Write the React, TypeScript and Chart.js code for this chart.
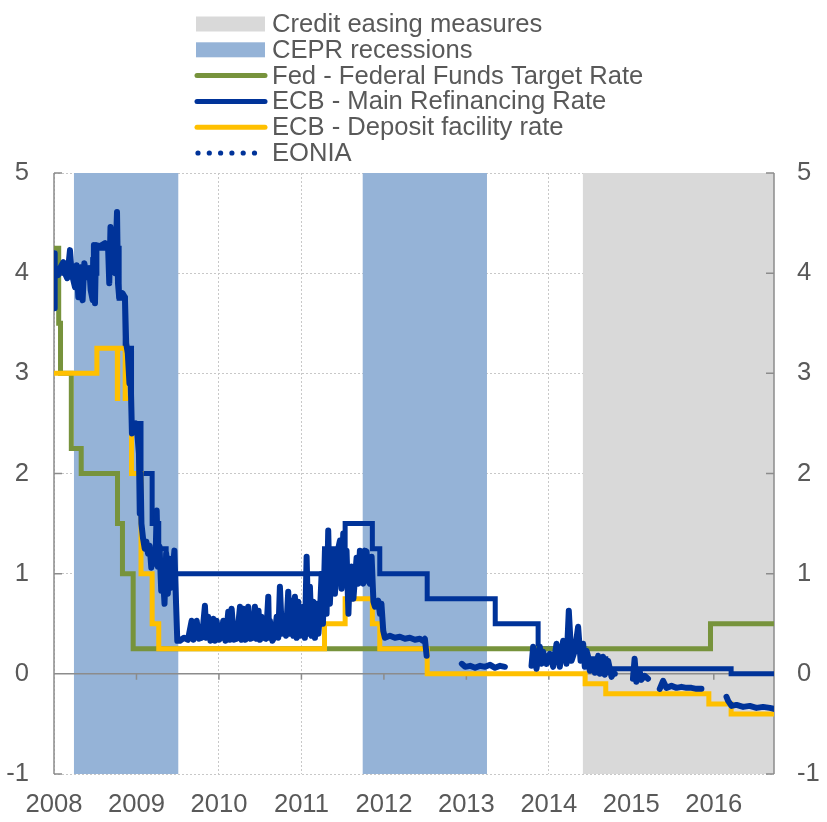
import React, { useEffect, useRef } from 'react';
import { Chart, registerables } from 'chart.js';

Chart.register(...registerables);

// ---------- data ----------
const xTickYears = [2008, 2009, 2010, 2011, 2012, 2013, 2014, 2015, 2016];
const yTickValues = [-1, 0, 1, 2, 3, 4, 5];
const xMin = 2008.0;
const xMax = 2016.73;

const legendLabels = [
  'Credit easing measures',
  'CEPR recessions',
  'Fed - Federal Funds Target Rate',
  'ECB - Main Refinancing Rate',
  'ECB - Deposit facility rate',
  'EONIA',
];

const easingStarts = [2014.41];
const easingEnds = [2016.73];
const recessionStarts = [2008.24, 2011.74];
const recessionEnds = [2009.51, 2013.25];

const fedYears = [2008.0, 2008.057, 2008.079, 2008.21, 2008.33, 2008.77, 2008.83, 2008.96, 2015.96, 2016.73];
const fedRates = [4.25, 3.5, 3.0, 2.25, 2.0, 1.5, 1.0, 0.25, 0.5, 0.5];

const mroYears = [2008.0, 2008.52, 2008.79, 2008.863, 2008.94, 2009.055, 2009.19, 2009.27, 2009.36, 2011.28, 2011.53, 2011.86, 2011.95, 2012.525, 2013.35, 2013.87, 2014.44, 2014.69, 2016.21, 2016.73];
const mroRates = [4.0, 4.25, 3.75, 3.25, 2.5, 2.0, 1.5, 1.25, 1.0, 1.25, 1.5, 1.25, 1.0, 0.75, 0.5, 0.25, 0.15, 0.05, 0.0, 0.0];

const depositYears = [2008.0, 2008.52, 2008.768, 2008.772, 2008.863, 2008.94, 2009.055, 2009.19, 2009.27, 2011.28, 2011.53, 2011.86, 2011.95, 2012.525, 2014.44, 2014.69, 2015.94, 2016.21, 2016.73];
const depositRates = [3.0, 3.25, 2.75, 3.25, 2.75, 2.0, 1.0, 0.5, 0.25, 0.5, 0.75, 0.5, 0.25, 0.0, -0.1, -0.2, -0.3, -0.4, -0.4];

const eoniaYears = [
  2008.000, 2008.004, 2008.012, 2008.024, 2008.050, 2008.073, 2008.113, 2008.133, 2008.160, 2008.194,
  2008.214, 2008.255, 2008.275, 2008.295, 2008.323, 2008.347, 2008.368, 2008.396, 2008.428, 2008.445,
  2008.469, 2008.475, 2008.484, 2008.497, 2008.510, 2008.560, 2008.620, 2008.655, 2008.670, 2008.685,
  2008.700, 2008.715, 2008.740, 2008.764, 2008.776, 2008.790, 2008.830, 2008.860, 2008.875, 2008.895,
  2008.915, 2008.925, 2008.945, 2008.975, 2008.994, 2009.010, 2009.030, 2009.040, 2009.050, 2009.060,
  2009.080, 2009.100, 2009.120, 2009.140, 2009.160, 2009.180, 2009.200, 2009.230, 2009.245, 2009.260,
  2009.280, 2009.300, 2009.320, 2009.340, 2009.360, 2009.380, 2009.400, 2009.420, 2009.460, 2009.480,
  2009.495, 2009.527, 2009.576, 2009.624, 2009.669, 2009.691, 2009.730, 2009.758, 2009.794, 2009.830,
  2009.848, 2009.870, 2009.897, 2009.931, 2009.952, 2009.972, 2010.000, 2010.024, 2010.052, 2010.079,
  2010.113, 2010.133, 2010.154, 2010.182, 2010.218, 2010.255, 2010.275, 2010.295, 2010.321, 2010.355,
  2010.382, 2010.412, 2010.436, 2010.457, 2010.480, 2010.497, 2010.517, 2010.545, 2010.570, 2010.598,
  2010.608, 2010.618, 2010.648, 2010.673, 2010.700, 2010.719, 2010.739, 2010.764, 2010.788, 2010.812,
  2010.840, 2010.861, 2010.881, 2010.903, 2010.921, 2010.942, 2010.961, 2010.985, 2011.022, 2011.042,
  2011.063, 2011.085, 2011.103, 2011.124, 2011.143, 2011.164, 2011.184, 2011.206, 2011.224, 2011.245,
  2011.261, 2011.285, 2011.305, 2011.325, 2011.345, 2011.366, 2011.385, 2011.406, 2011.446, 2011.467,
  2011.487, 2011.507, 2011.527, 2011.547, 2011.570, 2011.588, 2011.608, 2011.630, 2011.669, 2011.689,
  2011.709, 2011.730, 2011.749, 2011.770, 2011.790, 2011.810, 2011.830, 2011.851, 2011.873, 2011.891,
  2011.931, 2011.952, 2011.970, 2011.992, 2012.012, 2012.073, 2012.133, 2012.194, 2012.255, 2012.315,
  2012.376, 2012.436, 2012.473, 2012.497, 2012.518, 2012.700,
  2012.945, 2012.985, 2013.045, 2013.106, 2013.167, 2013.227, 2013.288, 2013.348, 2013.409, 2013.467, 2013.600,
  2013.790, 2013.810, 2013.850, 2013.891, 2013.911, 2013.931, 2013.972, 2014.012, 2014.052, 2014.093,
  2014.133, 2014.173, 2014.214, 2014.242, 2014.275, 2014.315, 2014.355, 2014.385, 2014.416, 2014.436,
  2014.457, 2014.477, 2014.497, 2014.537, 2014.558, 2014.598, 2014.618, 2014.658, 2014.679, 2014.719,
  2014.760, 2014.780, 2014.800, 2014.900,
  2015.020, 2015.040, 2015.061, 2015.101, 2015.121, 2015.162, 2015.202, 2015.250,
  2015.345, 2015.385, 2015.426, 2015.487, 2015.548, 2015.608, 2015.669, 2015.729, 2015.790, 2015.850, 2016.000,
  2016.154, 2016.174, 2016.215, 2016.275, 2016.356, 2016.436, 2016.517, 2016.598, 2016.679, 2016.730,
];
const eoniaValues = [
  3.65, 4.20, 4.00, 4.02, 3.98, 4.05, 4.11, 4.00, 3.95, 4.23,
  4.00, 3.86, 4.08, 3.76, 4.06, 3.73, 4.10, 3.96, 4.05, 3.83,
  3.73, 4.15, 4.28, 3.70, 4.28, 4.27, 4.30, 4.28, 3.90, 4.46,
  4.15, 4.35, 4.00, 4.61, 3.90, 3.76, 3.80, 3.76, 3.30, 3.20,
  2.90, 3.10, 2.40, 2.45, 2.50, 2.40, 2.20, 1.60, 2.00, 1.50,
  1.35, 1.25, 1.32, 1.20, 1.28, 1.06, 1.15, 1.10, 1.63, 1.07,
  1.27, 0.83, 1.00, 0.70, 1.20, 0.80, 1.15, 0.86, 1.23, 0.70,
  0.33, 0.33, 0.36, 0.34, 0.53, 0.34, 0.53, 0.35, 0.36, 0.68,
  0.36, 0.57, 0.33, 0.55, 0.33, 0.53, 0.34, 0.36, 0.53, 0.33,
  0.62, 0.34, 0.65, 0.34, 0.35, 0.67, 0.34, 0.65, 0.34, 0.67,
  0.35, 0.36, 0.67, 0.35, 0.63, 0.34, 0.57, 0.36, 0.35, 0.77,
  0.36, 0.53, 0.33, 0.37, 0.57, 0.36, 0.87, 0.40, 0.45, 0.38,
  0.82, 0.40, 0.73, 0.38, 0.77, 0.36, 0.72, 0.38, 0.67, 0.36,
  1.17, 0.40, 0.87, 0.38, 0.72, 0.36, 0.70, 0.40, 0.60, 1.00,
  0.50, 1.23, 0.60, 1.43, 0.70, 1.10, 1.21, 0.80, 1.25, 1.33,
  0.85, 1.40, 0.90, 1.23, 0.60, 1.05, 1.07, 0.75, 1.16, 0.90,
  1.23, 0.93, 0.90, 1.23, 1.22, 0.93, 0.90, 1.17, 0.72, 0.67,
  0.73, 0.60, 0.70, 0.43, 0.36, 0.38, 0.36, 0.37, 0.35, 0.36,
  0.34, 0.35, 0.33, 0.35, 0.18, null,
  0.10, 0.07, 0.08, 0.06, 0.08, 0.07, 0.09, 0.06, 0.08, 0.07, null,
  0.08, 0.27, 0.05, 0.27, 0.10, 0.22, 0.10, 0.20, 0.07, 0.30,
  0.07, 0.33, 0.10, 0.63, 0.13, 0.23, 0.47, 0.13, 0.30, 0.07,
  0.23, 0.17, 0.03, 0.13, 0.01, 0.18, 0.00, 0.17, -0.01, 0.13,
  -0.03, 0.00, 0.00, null,
  -0.05, 0.15, -0.08, 0.03, -0.06, -0.02, -0.05, null,
  -0.15, -0.07, -0.14, -0.12, -0.14, -0.13, -0.14, -0.14, -0.15, -0.15, null,
  -0.23, -0.27, -0.32, -0.31, -0.33, -0.32, -0.34, -0.33, -0.34, -0.35,
];

// ---------- styles ----------
const FONT = '"Liberation Sans", Arial, sans-serif';
const FONT_SIZE = 25.6;
const TEXT_COLOR = '#595959';
const GRID_COLOR = '#C8C8C8';
const AXIS_COLOR = '#8C8C8C';
const GREY_BAND = '#D9D9D9';
const BLUE_BAND = '#95B3D7';
const FED_GREEN = '#77933C';
const ECB_BLUE = '#003399';
const DEP_YELLOW = '#FFC000';

const toPoints = (xs: number[], ys: (number | null)[]) => xs.map((x, i) => ({ x, y: ys[i] }));

const bandDataset = (a: number, b: number, color: string, order: number) => ({
  label: 'band',
  data: [{ x: a, y: 5 }, { x: b, y: 5 }],
  backgroundColor: color,
  borderColor: 'rgba(0,0,0,0)',
  borderWidth: 0,
  pointRadius: 0,
  fill: 'start',
  order,
});

const legendPlugin = {
  id: 'customLegend',
  afterDraw(chart: any) {
    const ctx = chart.ctx;
    ctx.save();
    const x0 = 196;
    const x1 = 265;
    const textX = 272;
    const top = 24;
    const step = 25.8;
    const kinds = ['rect', 'rect', 'line', 'line', 'line', 'dots'];
    const colors = [GREY_BAND, BLUE_BAND, FED_GREEN, ECB_BLUE, DEP_YELLOW, ECB_BLUE];
    ctx.font = `${FONT_SIZE}px ${FONT}`;
    ctx.textBaseline = 'middle';
    ctx.textAlign = 'left';
    legendLabels.forEach((label, i) => {
      const cy = top + i * step;
      const kind = kinds[i];
      if (kind === 'rect') {
        ctx.fillStyle = colors[i];
        ctx.fillRect(x0, cy - 7.5, x1 - x0, 15);
      } else if (kind === 'line') {
        ctx.strokeStyle = colors[i];
        ctx.lineWidth = 5;
        ctx.lineCap = 'round';
        ctx.beginPath();
        ctx.moveTo(x0 + 1, cy);
        ctx.lineTo(x1, cy);
        ctx.stroke();
      } else {
        ctx.fillStyle = colors[i];
        for (let k = 0; k < 6; k++) {
          ctx.beginPath();
          ctx.arc(x0 + 2 + k * 11.3, cy, 2.6, 0, Math.PI * 2);
          ctx.fill();
        }
      }
      ctx.fillStyle = TEXT_COLOR;
      ctx.fillText(label, textX, cy + 1);
    });
    ctx.restore();
  },
};

const axisPlugin = {
  id: 'axisLines',
  beforeDatasetDraw(chart: any, args: any) {
    if (args.index !== 3) return;
    const { ctx, chartArea: a, scales } = chart;
    const xs = scales.x;
    const ys = scales.y;
    ctx.save();
    ctx.strokeStyle = AXIS_COLOR;
    ctx.lineWidth = 1.5;
    ctx.lineCap = 'butt';
    ctx.beginPath();
    ctx.moveTo(a.left, a.top);
    ctx.lineTo(a.left, a.bottom);
    ctx.moveTo(a.right, a.top);
    ctx.lineTo(a.right, a.bottom);
    yTickValues.forEach((v) => {
      const py = ys.getPixelForValue(v);
      ctx.moveTo(a.left, py);
      ctx.lineTo(a.left + 8, py);
      ctx.moveTo(a.right - 8, py);
      ctx.lineTo(a.right, py);
    });
    const y0 = ys.getPixelForValue(0);
    ctx.moveTo(a.left, y0);
    ctx.lineTo(a.right, y0);
    xTickYears.forEach((yr) => {
      const px = xs.getPixelForValue(yr);
      ctx.moveTo(px, y0);
      ctx.lineTo(px, y0 + 6);
    });
    ctx.stroke();
    ctx.restore();
  },
};

export default function App() {
  const canvasRef = useRef<HTMLCanvasElement | null>(null);

  useEffect(() => {
    if (!canvasRef.current) return;
    const datasets: any[] = [
      {
        label: legendLabels[5],
        data: toPoints(eoniaYears, eoniaValues),
        borderColor: ECB_BLUE,
        borderWidth: 6,
        pointRadius: 0,
        borderJoinStyle: 'round',
        borderCapStyle: 'round',
        spanGaps: false,
        fill: false,
        order: 0,
      },
      {
        label: legendLabels[4],
        data: toPoints(depositYears, depositRates),
        borderColor: DEP_YELLOW,
        borderWidth: 5,
        pointRadius: 0,
        stepped: 'before',
        fill: false,
        order: 1,
      },
      {
        label: legendLabels[2],
        data: toPoints(fedYears, fedRates),
        borderColor: FED_GREEN,
        borderWidth: 5,
        pointRadius: 0,
        stepped: 'before',
        fill: false,
        order: 2,
      },
      {
        label: legendLabels[3],
        data: toPoints(mroYears, mroRates),
        borderColor: ECB_BLUE,
        borderWidth: 5,
        pointRadius: 0,
        stepped: 'before',
        fill: false,
        order: 3,
      },
    ];
    easingStarts.forEach((s, i) => datasets.push(bandDataset(s, easingEnds[i], GREY_BAND, 10)));
    recessionStarts.forEach((s, i) => datasets.push(bandDataset(s, recessionEnds[i], BLUE_BAND, 9)));

    const tickFont = { family: FONT, size: FONT_SIZE };

    const chart = new Chart(canvasRef.current, {
      type: 'line',
      data: { datasets },
      options: {
        responsive: false,
        animation: false,
        devicePixelRatio: 1,
        layout: { padding: { top: 173, left: 0, right: 0, bottom: 0 } },
        plugins: {
          legend: { display: false },
          tooltip: { enabled: false },
        },
        scales: {
          x: {
            type: 'linear',
            position: 'bottom',
            min: xMin,
            max: xMax,
            afterBuildTicks: (scale: any) => {
              scale.ticks = xTickYears.map((v) => ({ value: v }));
            },
            afterFit: (scale: any) => {
              scale.height = 48;
            },
            ticks: {
              autoSkip: false,
              maxRotation: 0,
              color: TEXT_COLOR,
              font: tickFont,
              padding: 16,
              callback: (v: any) => String(v),
            },
            grid: { color: GRID_COLOR, lineWidth: 1, drawTicks: false },
            border: { display: false, dash: [2, 2] },
          },
          y: {
            type: 'linear',
            position: 'left',
            min: -1,
            max: 5,
            afterBuildTicks: (scale: any) => {
              scale.ticks = yTickValues.map((v) => ({ value: v }));
            },
            afterFit: (scale: any) => {
              scale.width = 54;
            },
            ticks: { color: TEXT_COLOR, font: tickFont, padding: 25, stepSize: 1 },
            grid: { color: GRID_COLOR, lineWidth: 1, drawTicks: false },
            border: { display: false, dash: [2, 2] },
          },
          y2: {
            type: 'linear',
            position: 'right',
            min: -1,
            max: 5,
            afterBuildTicks: (scale: any) => {
              scale.ticks = yTickValues.map((v) => ({ value: v }));
            },
            afterFit: (scale: any) => {
              scale.width = 53;
            },
            ticks: { color: TEXT_COLOR, font: tickFont, padding: 23, stepSize: 1 },
            grid: { drawOnChartArea: false, drawTicks: false },
            border: { display: false },
          },
        },
      } as any,
      plugins: [legendPlugin, axisPlugin],
    });
    return () => chart.destroy();
  }, []);

  return (
    <div style={{ position: 'absolute', left: 0, top: 0, width: 827, height: 822, background: '#fff' }}>
      <canvas ref={canvasRef} width={827} height={822} style={{ width: 827, height: 822, display: 'block' }} />
    </div>
  );
}
